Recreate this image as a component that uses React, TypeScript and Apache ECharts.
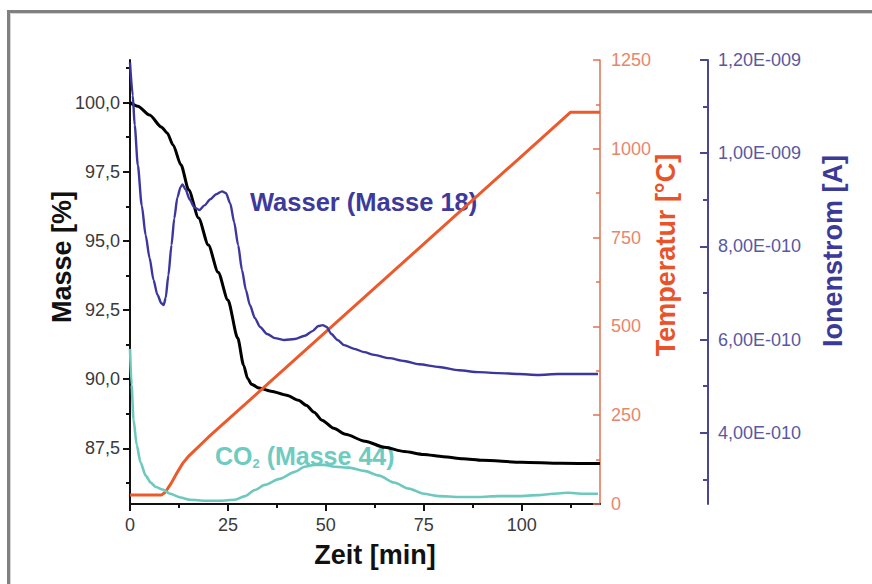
import { useEffect, useRef } from "react";
import * as echarts from "echarts";

// ---- axis ticks ----
const timeTicks = [0, 25, 50, 75, 100];
const timeMinorTicks = [12.5, 37.5, 62.5, 87.5, 112.5];
const massTicks = [87.5, 90, 92.5, 95, 97.5, 100];
const massMinorTicks = [86.25, 88.75, 91.25, 93.75, 96.25, 98.75, 101.25];
const ionTicks = [4e-10, 6e-10, 8e-10, 1e-9, 1.2e-9];
const ionMinorTicks = [3e-10, 5e-10, 7e-10, 9e-10, 1.1e-9];

// ---- series: [time (min), value] ----
const massData: [number, number][] = [
  [0, 100.0], [2, 99.87], [5, 99.55], [8, 99.12], [9.5, 98.9], [11, 98.47],
  [13, 97.75], [15, 96.84], [17.5, 95.83], [20, 94.85], [22.5, 93.87],
  [25, 92.86], [27.5, 91.49], [29, 90.51], [30, 90.04], [31, 89.82],
  [33, 89.68], [36, 89.57], [40, 89.42], [43, 89.24], [45, 89.06],
  [47, 88.81], [49, 88.52], [52, 88.23], [55, 88.01], [60, 87.76],
  [65, 87.54], [70, 87.39], [75, 87.28], [80, 87.2], [85, 87.13],
  [90, 87.07], [100, 87.0], [110, 86.96], [120, 86.95],
];

const temperatureData: [number, number][] = [
  [0, 25], [8, 25], [9, 33], [10.5, 58], [12, 88], [13.5, 115], [15, 135],
  [20, 188], [112.5, 1103], [120, 1103],
];

const waterData: [number, number][] = [
  [0, 11.95e-10], [0.7, 11.24e-10], [1.2, 10.6e-10], [2.0, 9.74e-10],
  [3.0, 8.88e-10], [4.0, 8.24e-10], [5.0, 7.75e-10], [6.0, 7.28e-10],
  [7.0, 6.96e-10], [8.0, 6.78e-10], [8.6, 6.74e-10], [9.1, 6.89e-10],
  [9.8, 7.38e-10], [10.6, 8.03e-10], [11.3, 8.6e-10], [12.1, 9.05e-10],
  [12.9, 9.27e-10], [13.4, 9.33e-10], [14.2, 9.22e-10], [15.2, 9.01e-10],
  [16.4, 8.84e-10], [17.7, 8.78e-10], [19.0, 8.88e-10], [20.5, 9.01e-10],
  [22.0, 9.12e-10], [23.5, 9.18e-10], [24.5, 9.14e-10], [25.6, 8.92e-10],
  [26.6, 8.52e-10], [27.6, 8.03e-10], [28.6, 7.49e-10], [29.6, 7.06e-10],
  [30.6, 6.74e-10], [31.9, 6.46e-10], [33.2, 6.27e-10], [35.0, 6.12e-10],
  [37.0, 6.03e-10], [39.5, 5.99e-10], [42.1, 6.01e-10], [44.6, 6.08e-10],
  [46.6, 6.18e-10], [48.1, 6.29e-10], [49.2, 6.31e-10], [50.2, 6.27e-10],
  [51.4, 6.12e-10], [53.0, 5.99e-10], [54.7, 5.88e-10], [57.3, 5.8e-10],
  [59.8, 5.73e-10], [62.4, 5.67e-10], [66.2, 5.6e-10], [70.0, 5.54e-10],
  [73.8, 5.47e-10], [78.9, 5.41e-10], [84.0, 5.34e-10], [89.0, 5.3e-10],
  [94.1, 5.28e-10], [99.2, 5.26e-10], [104.2, 5.24e-10], [109.3, 5.26e-10],
  [114.4, 5.26e-10], [119.5, 5.26e-10],
];

const co2Data: [number, number][] = [
  [0, 5.8e-10], [0.4, 5.03e-10], [0.9, 4.28e-10], [1.7, 3.74e-10],
  [2.7, 3.36e-10], [4.0, 3.08e-10], [5.3, 2.93e-10], [6.5, 2.84e-10],
  [8.3, 2.78e-10], [10.3, 2.69e-10], [12.9, 2.61e-10], [15.4, 2.56e-10],
  [19.2, 2.54e-10], [23.0, 2.54e-10], [26.8, 2.56e-10], [29.4, 2.64e-10],
  [31.9, 2.77e-10], [34.4, 2.88e-10], [38.2, 3.01e-10], [42.1, 3.16e-10],
  [44.6, 3.27e-10], [47.1, 3.31e-10], [49.7, 3.31e-10], [52.2, 3.27e-10],
  [56.0, 3.25e-10], [59.8, 3.18e-10], [63.6, 3.08e-10], [67.4, 2.93e-10],
  [71.2, 2.8e-10], [75.0, 2.69e-10], [78.9, 2.64e-10], [83.9, 2.62e-10],
  [89.0, 2.62e-10], [94.1, 2.64e-10], [99.2, 2.64e-10], [104.2, 2.66e-10],
  [108.0, 2.69e-10], [111.8, 2.71e-10], [115.6, 2.69e-10], [119.5, 2.69e-10],
];

const FONT = "'Liberation Sans', Arial, sans-serif";

const fmtMass = (v: number) => v.toFixed(1).replace(".", ",");
const fmtPlain = (v: number) => String(Math.round(v));
const fmtIon = (v: number) => {
  const [m, e] = v.toExponential(2).split("e");
  const exp = parseInt(e, 10);
  return m.replace(".", ",") + "E" + (exp < 0 ? "-" : "+") + String(Math.abs(exp)).padStart(3, "0");
};

export default function App() {
  const ref = useRef<HTMLDivElement>(null);
  useEffect(() => {
    if (!ref.current) return;
    const chart = echarts.init(ref.current, undefined, { renderer: "svg" });
    const grid = { left: 130, top: 60, width: 470, height: 444, containLabel: false };
    const massMin = 85.49, massMax = 101.54;
    const ionMin = 2.47e-10, ionMax = 1.2e-9;
    chart.setOption({
      animation: false,
      backgroundColor: "#ffffff",
      textStyle: { fontFamily: FONT },
      grid,
      xAxis: [
        {
          type: "value", min: 0, max: 120, position: "bottom",
          axisLine: { show: true, lineStyle: { color: "#111", width: 2 } },
          axisTick: { show: true, inside: false, length: 7, customValues: timeTicks, lineStyle: { color: "#111", width: 2 } },
          axisLabel: { customValues: timeTicks, margin: 12, fontSize: 18, color: "#3a3a3a", formatter: fmtPlain, fontFamily: FONT },
          splitLine: { show: false },
        },
        {
          type: "value", min: 0, max: 120, position: "bottom",
          axisLine: { show: false },
          axisTick: { show: true, inside: false, length: 4, customValues: timeMinorTicks, lineStyle: { color: "#111", width: 2 } },
          axisLabel: { show: false },
          splitLine: { show: false },
        },
      ],
      yAxis: [
        {
          type: "value", min: massMin, max: massMax, position: "left",
          axisLine: { show: true, lineStyle: { color: "#111", width: 2 } },
          axisTick: { show: true, inside: false, length: 7, customValues: massTicks, lineStyle: { color: "#111", width: 2 } },
          axisLabel: { customValues: massTicks, margin: 10, fontSize: 18, color: "#3a3a3a", formatter: fmtMass, fontFamily: FONT },
          splitLine: { show: false },
        },
        {
          type: "value", min: massMin, max: massMax, position: "left",
          axisLine: { show: false },
          axisTick: { show: true, inside: false, length: 4, customValues: massMinorTicks, lineStyle: { color: "#111", width: 2 } },
          axisLabel: { show: false },
          splitLine: { show: false },
        },
        {
          type: "value", min: 0, max: 1250, interval: 250, position: "right", offset: 0,
          axisLine: { show: true, lineStyle: { color: "#e2714f", width: 1.5 } },
          axisTick: { show: true, inside: true, length: 7, lineStyle: { color: "#e2714f", width: 1.5 } },
          minorTick: { show: true, splitNumber: 2, length: 4, lineStyle: { color: "#e2714f", width: 1.5 } },
          axisLabel: { margin: 11, fontSize: 18, color: "#e8866c", formatter: fmtPlain, fontFamily: FONT },
          splitLine: { show: false },
          minorSplitLine: { show: false },
        },
        {
          type: "value", min: ionMin, max: ionMax, position: "right", offset: 108,
          axisLine: { show: true, lineStyle: { color: "#4a4896", width: 2 } },
          axisTick: { show: true, inside: true, length: 8, customValues: ionTicks, lineStyle: { color: "#4a4896", width: 2 } },
          axisLabel: { customValues: ionTicks, margin: 10, fontSize: 18, color: "#5a58a0", formatter: fmtIon, fontFamily: FONT },
          splitLine: { show: false },
        },
        {
          type: "value", min: ionMin, max: ionMax, position: "right", offset: 108,
          axisLine: { show: false },
          axisTick: { show: true, inside: true, length: 5, customValues: ionMinorTicks, lineStyle: { color: "#4a4896", width: 2 } },
          axisLabel: { show: false },
          splitLine: { show: false },
        },
      ],
      graphic: [
        { type: "rect", silent: true, z: 0, shape: { x: 8.5, y: 11.5, width: 900, height: 620 }, style: { fill: "none", stroke: "#808080", lineWidth: 3 } },
        { type: "rect", silent: true, z: 0, shape: { x: 10.5, y: 13.5, width: 900, height: 620 }, style: { fill: "none", stroke: "#d4d4d4", lineWidth: 1 } },
        { type: "text", x: 62, y: 257, rotation: Math.PI / 2, style: { text: "Masse [%]", font: `bold 27px ${FONT}`, fill: "#111", align: "center", verticalAlign: "middle" } },
        { type: "text", x: 666, y: 255, rotation: Math.PI / 2, style: { text: "Temperatur [°C]", font: `bold 27px ${FONT}`, fill: "#e8532a", align: "center", verticalAlign: "middle" } },
        { type: "text", x: 833, y: 251, rotation: Math.PI / 2, style: { text: "Ionenstrom [A]", font: `bold 27px ${FONT}`, fill: "#3c3a98", align: "center", verticalAlign: "middle" } },
        { type: "text", x: 375, y: 555, style: { text: "Zeit [min]", font: `bold 27px ${FONT}`, fill: "#111", align: "center", verticalAlign: "middle" } },
        { type: "text", x: 250, y: 202, style: { text: "Wasser (Masse 18)", font: `bold 25.5px ${FONT}`, fill: "#3d3a9c", align: "left", verticalAlign: "middle" } },
        {
          type: "text", x: 215, y: 456,
          style: {
            text: "{a|CO}{s|2}{a| (Masse 44)}",
            align: "left", verticalAlign: "middle",
            rich: {
              a: { fontSize: 25, fontWeight: "bold", fontFamily: FONT, fill: "#6ecbc1", lineHeight: 26 },
              s: { fontSize: 13, fontWeight: "bold", fontFamily: FONT, fill: "#6ecbc1", lineHeight: 13, padding: [15, 0, 0, 0] },
            },
          },
        },
      ],
      series: [
        {
          name: "Masse", type: "line", xAxisIndex: 0, yAxisIndex: 0, data: massData,
          showSymbol: false, symbol: "none", smooth: 0.25, smoothMonotone: "x",
          lineStyle: { color: "#000", width: 3 }, z: 3,
        },
        {
          name: "Temperatur", type: "line", xAxisIndex: 0, yAxisIndex: 2, data: temperatureData,
          showSymbol: false, symbol: "none",
          lineStyle: { color: "#ec5a2b", width: 3 }, z: 4,
        },
        {
          name: "Wasser (Masse 18)", type: "line", xAxisIndex: 0, yAxisIndex: 4, data: waterData,
          showSymbol: false, symbol: "none", smooth: 0.25, smoothMonotone: "x",
          lineStyle: { color: "#3b379e", width: 2.4 }, z: 5,
        },
        {
          name: "CO2 (Masse 44)", type: "line", xAxisIndex: 0, yAxisIndex: 4, data: co2Data,
          showSymbol: false, symbol: "none", smooth: 0.25, smoothMonotone: "x",
          lineStyle: { color: "#6dc9bf", width: 2.6 }, z: 5,
        },
      ],
    });
    return () => chart.dispose();
  }, []);
  return (
    <div
      ref={ref}
      style={{ position: "fixed", left: 0, top: 0, width: 872, height: 584, background: "#fff" }}
    />
  );
}
